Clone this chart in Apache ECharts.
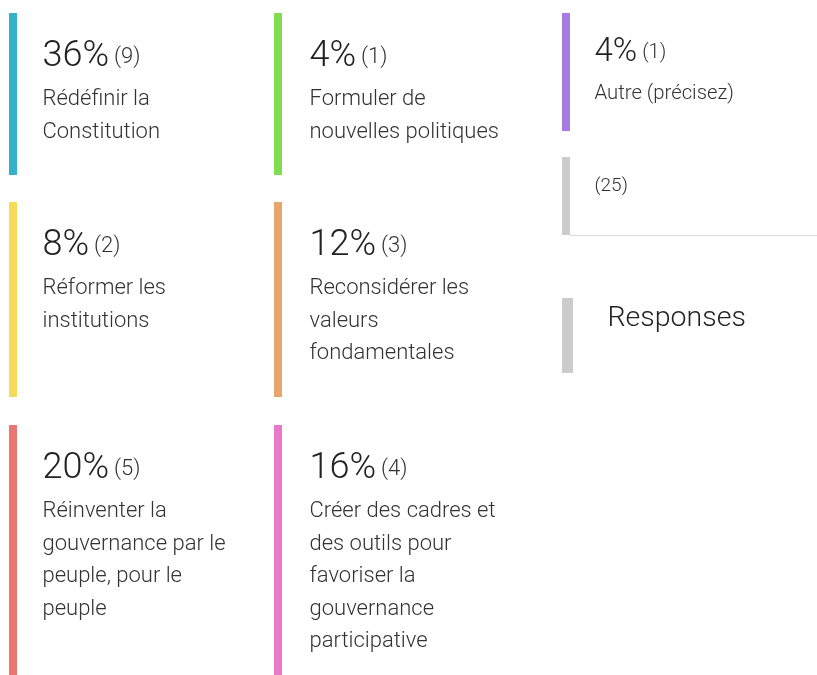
<!DOCTYPE html>
<html>
<head>
<meta charset="utf-8">
<script src="https://cdn.jsdelivr.net/npm/echarts@6/dist/echarts.min.js"></script>
<style>
  html, body { margin: 0; padding: 0; background: #fff; }
  #main { width: 817px; height: 675px; }
</style>
</head>
<body>
<div id="main"></div>
<script>
// answers, in reading order
var labels = [
  'Rédéfinir la Constitution',
  'Formuler de nouvelles politiques',
  'Autre (précisez)',
  'Réformer les institutions',
  'Reconsidérer les valeurs fondamentales',
  'Réinventer la gouvernance par le peuple, pour le peuple',
  'Créer des cadres et des outils pour favoriser la gouvernance participative'
]
var percents = [36, 4, 4, 8, 12, 20, 16]
var counts = [9, 1, 1, 2, 3, 5, 4]
var total = 25
var totalLabel = 'Responses'

var colors = ['#36b1ca', '#82dc50', '#a77be3', '#f4dc5a', '#e8a66c', '#e87774', '#e878c8']

// where each card sits
var slots = [
  { x: 9, y: 13, h: 162, tx: 42.5 },
  { x: 274, y: 13, h: 162, tx: 309.5 },
  { x: 562, y: 13, h: 118, tx: 594.5, small: true },
  { x: 9, y: 202, h: 195, tx: 42.5 },
  { x: 274, y: 202, h: 195, tx: 309.5 },
  { x: 9, y: 425, h: 250, tx: 42.5 },
  { x: 274, y: 425, h: 250, tx: 309.5 }
]

var FONT = 'Roboto'
var MID = 0.34 // canvas 'middle' sits this far above the baseline (em)

var ctx = document.createElement('canvas').getContext('2d')
function textWidth(text, weight, size) {
  ctx.font = weight + ' ' + size + 'px ' + FONT
  return ctx.measureText(text).width
}

function renderCard(params, api) {
  var i = params.dataIndex
  var s = slots[i]
  var bigFs = s.small ? 33 : 36
  var cntFs = s.small ? 20 : 22
  var labFs = s.small ? 20.3 : 22
  var lineH = 32.5
  var bigBase = s.y + (s.small ? 51 : 56)
  var labBase = s.y + (s.small ? 88 : 94)
  var pctText = api.value(0) + '%'
  var cntText = '(' + api.value(1) + ')'
  var w = textWidth(pctText, 300, bigFs)
  return {
    type: 'group',
    children: [
      {
        type: 'rect',
        shape: { x: s.x, y: s.y, width: 8, height: s.h },
        style: { fill: colors[i] }
      },
      {
        type: 'text',
        x: s.tx,
        y: bigBase - MID * bigFs,
        style: {
          text: pctText, fontFamily: FONT, fontWeight: 300, fontSize: bigFs,
          fill: '#222', verticalAlign: 'middle', align: 'left'
        }
      },
      {
        type: 'text',
        x: s.tx + w + 5,
        y: bigBase - 4 - MID * cntFs,
        style: {
          text: cntText, fontFamily: FONT, fontWeight: 300, fontSize: cntFs,
          fill: '#333', verticalAlign: 'middle', align: 'left'
        }
      },
      {
        type: 'text',
        x: s.tx,
        y: labBase - lineH / 2 - MID * labFs,
        style: {
          text: labels[i], fontFamily: FONT, fontWeight: 300, fontSize: labFs,
          lineHeight: lineH, width: 205, overflow: 'break',
          fill: '#333', verticalAlign: 'top', align: 'left'
        }
      }
    ]
  }
}

function renderTotal(params, api) {
  return {
    type: 'group',
    children: [
      { type: 'rect', shape: { x: 562, y: 157, width: 8, height: 78 }, style: { fill: '#cccccc' } },
      { type: 'line', shape: { x1: 570, y1: 235.5, x2: 817, y2: 235.5 }, style: { stroke: '#dddddd', lineWidth: 1 } },
      {
        type: 'text', x: 594.5, y: 193 - MID * 19,
        style: { text: '(' + api.value(0) + ')', fontFamily: FONT, fontWeight: 300, fontSize: 19, fill: '#333', verticalAlign: 'middle' }
      },
      { type: 'rect', shape: { x: 562, y: 298, width: 11, height: 75 }, style: { fill: '#cccccc' } },
      {
        type: 'text', x: 607.5, y: 329 - MID * 28.5,
        style: { text: totalLabel, fontFamily: FONT, fontWeight: 300, fontSize: 28.5, fill: '#222', verticalAlign: 'middle' }
      }
    ]
  }
}

var chart = echarts.init(document.getElementById('main'), null, { renderer: 'canvas' })

var option = {
  animation: false,
  series: [
    {
      type: 'custom',
      coordinateSystem: 'none',
      renderItem: renderCard,
      data: percents.map(function (p, i) { return [p, counts[i]] })
    },
    {
      type: 'custom',
      coordinateSystem: 'none',
      renderItem: renderTotal,
      data: [[total]]
    }
  ]
}
chart.setOption(option)
</script>
</body>
</html>
